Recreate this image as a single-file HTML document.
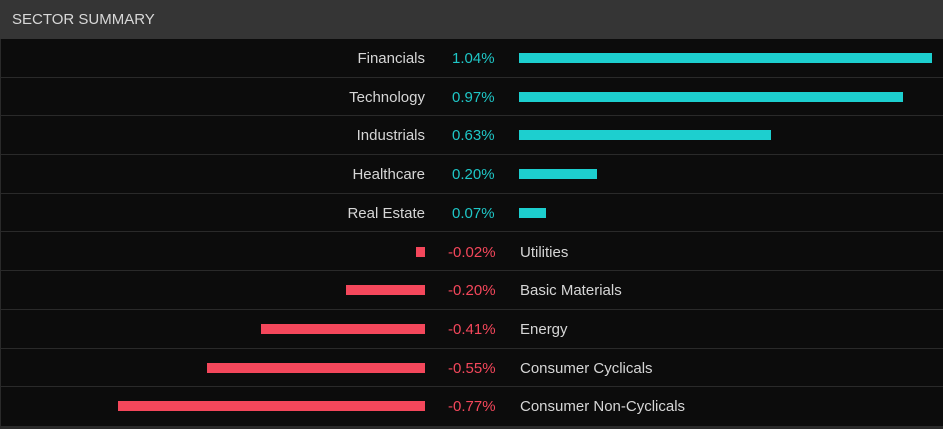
<!DOCTYPE html>
<html><head><style>
body{margin:0;width:943px;height:429px;background:#2a2a2a;font-family:"Liberation Sans",sans-serif;overflow:hidden;position:relative}
#hd{position:absolute;left:0;top:0;width:943px;height:39px;background:#353535;color:#d8d8d8;font-size:15px;line-height:39px;text-indent:12px}
#bd{position:absolute;left:1px;top:39px;width:942px;height:387px;background:#0c0c0c}
.r{position:absolute;left:0;width:942px;height:38.7px;border-bottom:1px solid #2a2a2a;box-sizing:border-box;font-size:15px;color:#d6d6d6}
.l{position:absolute;right:518px;top:11px}
.p{position:absolute;top:11px;color:#1fc7c7}
.n{color:#f4475b}
.t{position:absolute;left:519px;top:11px}
.b{position:absolute;top:14px;height:10px}
.bp{background:#1dcfcf}.bn{background:#f4475b}
</style></head><body>
<div id="hd">SECTOR SUMMARY</div>
<div id="bd">
<div class="r" style="top:0"><span class="l">Financials</span><span class="p" style="left:451px">1.04%</span><div class="b bp" style="left:518px;width:413px"></div></div>
<div class="r" style="top:38.7px"><span class="l">Technology</span><span class="p" style="left:451px">0.97%</span><div class="b bp" style="left:518px;width:384px"></div></div>
<div class="r" style="top:77.4px"><span class="l">Industrials</span><span class="p" style="left:451px">0.63%</span><div class="b bp" style="left:518px;width:252px"></div></div>
<div class="r" style="top:116.1px"><span class="l">Healthcare</span><span class="p" style="left:451px">0.20%</span><div class="b bp" style="left:518px;width:78px"></div></div>
<div class="r" style="top:154.8px"><span class="l">Real Estate</span><span class="p" style="left:451px">0.07%</span><div class="b bp" style="left:518px;width:27px"></div></div>
<div class="r" style="top:193.5px"><div class="b bn" style="left:415px;width:9px"></div><span class="p n" style="left:447px">-0.02%</span><span class="t">Utilities</span></div>
<div class="r" style="top:232.2px"><div class="b bn" style="left:345px;width:79px"></div><span class="p n" style="left:447px">-0.20%</span><span class="t">Basic Materials</span></div>
<div class="r" style="top:270.9px"><div class="b bn" style="left:260px;width:164px"></div><span class="p n" style="left:447px">-0.41%</span><span class="t">Energy</span></div>
<div class="r" style="top:309.6px"><div class="b bn" style="left:206px;width:218px"></div><span class="p n" style="left:447px">-0.55%</span><span class="t">Consumer Cyclicals</span></div>
<div class="r" style="top:348.3px;border-bottom:none"><div class="b bn" style="left:117px;width:307px"></div><span class="p n" style="left:447px">-0.77%</span><span class="t">Consumer Non-Cyclicals</span></div>
</div>
</body></html>
